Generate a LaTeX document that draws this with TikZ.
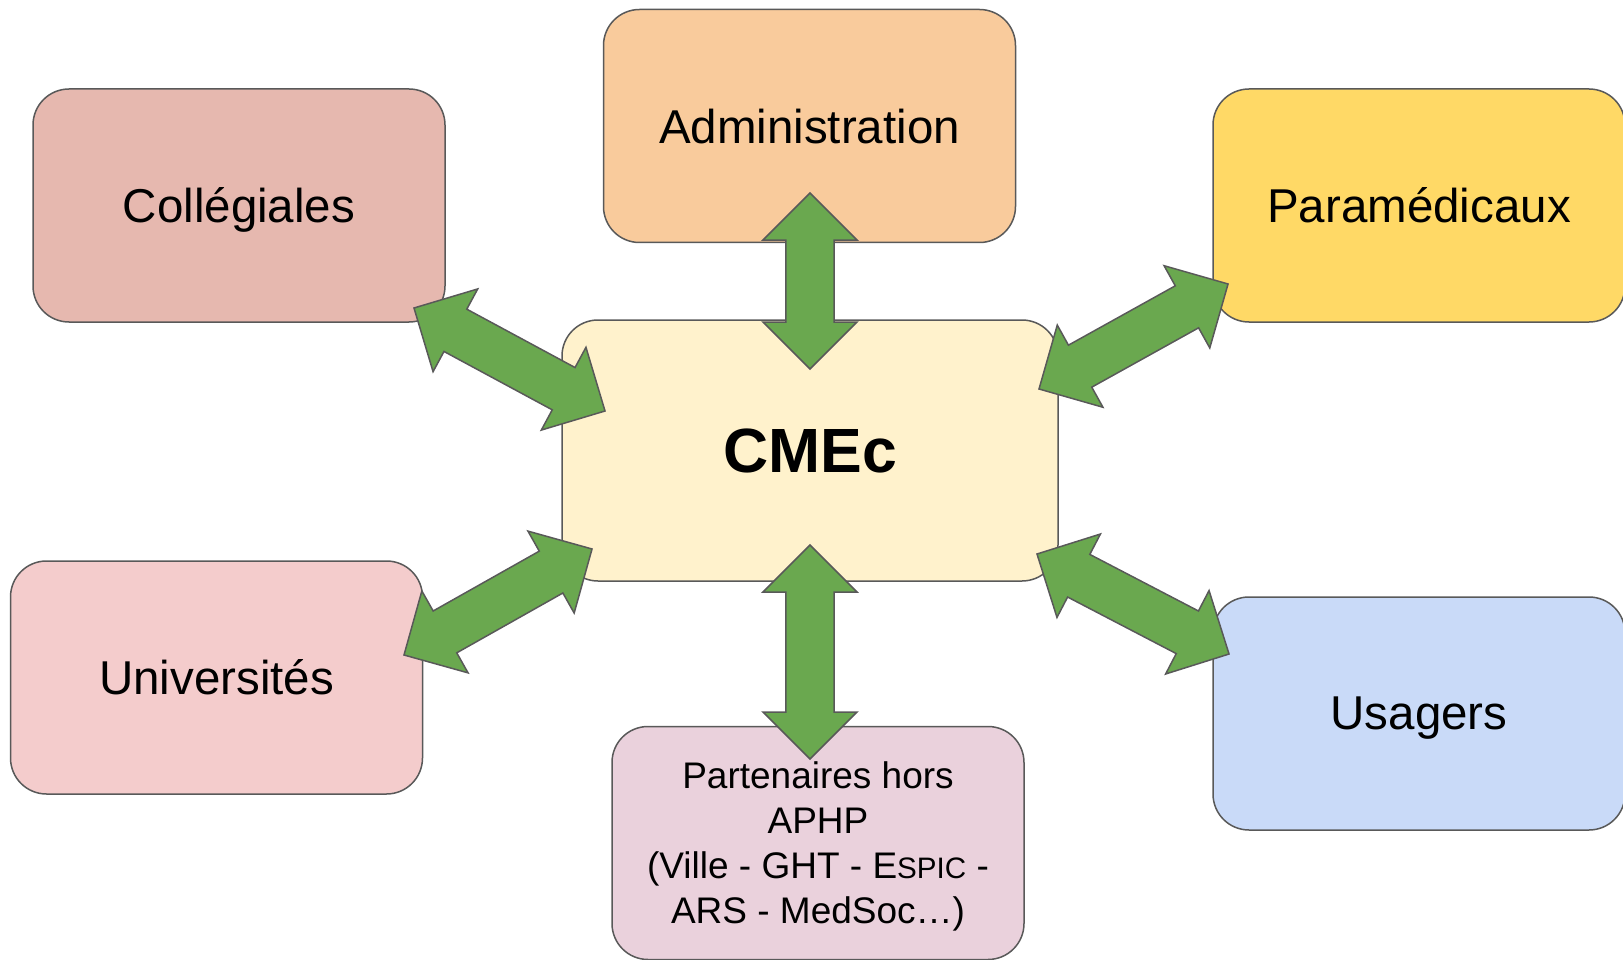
\documentclass[tikz,border=0pt]{standalone}
\usepackage{fontspec}
\setmainfont{Liberation Sans}
\usetikzlibrary{calc}

\definecolor{edgegray}{HTML}{595959}
\definecolor{arrowgreen}{HTML}{6AA84F}
\definecolor{collegfill}{HTML}{E6B8AF}
\definecolor{adminfill}{HTML}{F9CB9C}
\definecolor{paramfill}{HTML}{FFD966}
\definecolor{cmecfill}{HTML}{FFF2CC}
\definecolor{univfill}{HTML}{F4CCCC}
\definecolor{usagfill}{HTML}{C9DAF8}
\definecolor{partfill}{HTML}{EAD1DC}

\begin{document}
\begin{tikzpicture}[x=1pt,y=-1pt,
  box/.style={draw=edgegray, line width=1.5pt, rounded corners=36pt,
    minimum width=412pt, minimum height=233pt, inner sep=0pt,
    text depth=0pt, align=center, font=\fontsize{47.5}{57}\selectfont},
  bigarrow/.style={draw=edgegray, line width=1.5pt, fill=arrowgreen,
    line join=miter}]

\useasboundingbox (0,0) rectangle (1623,960);

% The boxes round the CMEc
\node[box, fill=collegfill] (colleg) at (239,205.5) {Collégiales};
\node[box, fill=adminfill] (admin) at (809.5,126) {Administration};
\node[box, fill=paramfill] (param) at (1419,205.5) {Paramédicaux};
\node[box, fill=univfill] (univ) at (216.5,677.5) {Universités};
\node[box, fill=usagfill] (usagers) at (1419,713.5) {Usagers};
\node[box, fill=partfill, font=\fontsize{37}{45}\selectfont] (partners) at (818,843)
  {Partenaires hors\\APHP\\(Ville - GHT - E{\fontsize{29.6}{45}\selectfont SPIC} -\\ARS - MedSoc…)};

% The central box
\node[box, fill=cmecfill, minimum width=496pt, minimum height=261pt,
  font=\fontsize{62.5}{75}\selectfont\bfseries] (cmec) at (810,450.5) {CMEc};

% The arrow tips
\coordinate (t-admin) at (810,193);
\coordinate (t-cmec-n) at (810,369);
\coordinate (t-cmec-s) at (810,545);
\coordinate (t-partners) at (810,759);
\coordinate (t-colleg) at (414,308);
\coordinate (t-cmec-nw) at (605,411);
\coordinate (t-param) at (1228,284);
\coordinate (t-cmec-ne) at (1039,389);
\coordinate (t-univ) at (404,655);
\coordinate (t-cmec-sw) at (592,549);
\coordinate (t-usagers) at (1229,654);
\coordinate (t-cmec-se) at (1037,554);

% The double arrows
\foreach \a/\b in {t-admin/t-cmec-n, t-cmec-s/t-partners, t-colleg/t-cmec-nw,
    t-cmec-ne/t-param, t-univ/t-cmec-sw, t-cmec-se/t-usagers}{
  \draw[bigarrow] let \p1=($(\b)-(\a)$), \n1={atan2(\y1,\x1)},
      \n2={veclen(\x1,\y1)-94} in
    (\a) -- ++(\n1+45:66.5pt) -- ++(\n1-90:23pt) -- ++(\n1:\n2)
    -- ++(\n1+90:23pt) -- ++(\n1-45:66.5pt) -- ++(\n1-135:66.5pt)
    -- ++(\n1+90:23pt) -- ++(\n1+180:\n2) -- ++(\n1-90:23pt) -- cycle;
}

\end{tikzpicture}
\end{document}
